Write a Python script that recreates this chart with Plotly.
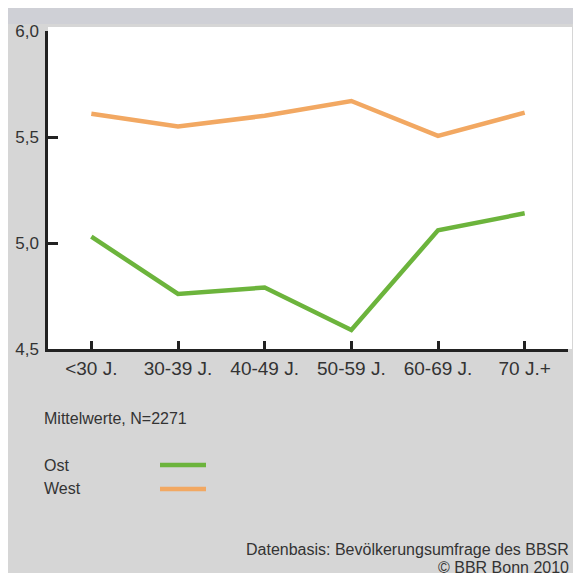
import plotly.graph_objects as go

categories = ["<30 J.", "30-39 J.", "40-49 J.", "50-59 J.", "60-69 J.", "70 J.+"]
ost = [5.03, 4.76, 4.79, 4.59, 5.06, 5.14]
west = [5.61, 5.55, 5.60, 5.67, 5.505, 5.615]
series_names = ["Ost", "West"]
y_tickvals = [4.5, 5.0, 5.5, 6.0]
y_ticktext = ["4,5", "5,0", "5,5", "6,0"]
note = "Mittelwerte, N=2271"
source1 = "Datenbasis: Bevölkerungsumfrage des BBSR"
source2 = "© BBR Bonn 2010"

GREEN = "#6cb43c"
ORANGE = "#f2a862"
OFF = 8  # page body margin
W, H = 581 - OFF, 577 - OFF
PL, PT, PR, PB = 48, 31, 568, 349  # plot area in window pixels
L, T = PL - OFF, PT - OFF
R, B = W - (PR - OFF), H - (PB - OFF)
PW, PH = W - L - R, H - T - B


def px(x):
    # window pixel x -> paper coordinate
    return (x - OFF - L) / PW


def py(y):
    # window pixel y -> paper coordinate
    return (H - B - (y - OFF)) / PH


fig = go.Figure()
fig.add_trace(go.Scatter(x=categories, y=ost, mode="lines", name=series_names[0],
                         line=dict(color=GREEN, width=4.5), showlegend=False))
fig.add_trace(go.Scatter(x=categories, y=west, mode="lines", name=series_names[1],
                         line=dict(color=ORANGE, width=4.5), showlegend=False))

shapes = [
    dict(type="rect", xref="paper", yref="paper", x0=px(0), x1=px(590), y0=py(573), y1=py(0),
         fillcolor="#d6d6d6", line=dict(width=0), layer="below"),
    dict(type="rect", xref="paper", yref="paper", x0=px(0), x1=px(590), y0=py(24), y1=py(0),
         fillcolor="#cfd0d6", line=dict(width=0), layer="below"),
    dict(type="rect", xref="paper", yref="paper", x0=px(48), x1=px(572), y0=py(349), y1=py(27),
         fillcolor="#ffffff", line=dict(width=0), layer="below"),
    dict(type="line", xref="paper", yref="paper", x0=px(160), x1=px(206), y0=py(465), y1=py(465),
         line=dict(color=GREEN, width=4.5)),
    dict(type="line", xref="paper", yref="paper", x0=px(160), x1=px(206), y0=py(489), y1=py(489),
         line=dict(color=ORANGE, width=4.5)),
]

font_txt = dict(family="Liberation Sans, Arial, sans-serif", size=16, color="#333333")
annotations = [
    dict(text=note, x=px(42), y=py(418), xref="paper", yref="paper", xanchor="left",
         yanchor="middle", showarrow=False, font=font_txt),
    dict(text=series_names[0], x=px(42), y=py(465), xref="paper", yref="paper", xanchor="left",
         yanchor="middle", showarrow=False, font=font_txt),
    dict(text=series_names[1], x=px(42), y=py(488), xref="paper", yref="paper", xanchor="left",
         yanchor="middle", showarrow=False, font=font_txt),
    dict(text=source1, x=px(571), y=py(549), xref="paper", yref="paper", xanchor="right",
         yanchor="middle", showarrow=False, font=font_txt),
    dict(text=source2, x=px(571), y=py(567), xref="paper", yref="paper", xanchor="right",
         yanchor="middle", showarrow=False, font=font_txt),
]

fig.update_layout(
    width=W, height=H,
    margin=dict(l=L, r=R, t=T, b=B, pad=0, autoexpand=False),
    paper_bgcolor="#ffffff",
    plot_bgcolor="rgba(0,0,0,0)",
    shapes=shapes,
    annotations=annotations,
    font=dict(family="Liberation Sans, Arial, sans-serif", color="#333333"),
    xaxis=dict(
        type="category", range=[-0.5, 5.5], showgrid=False, zeroline=False,
        showline=True, linecolor="#222222", linewidth=2.5,
        ticks="inside", ticklen=8, tickwidth=2.5, tickcolor="#222222",
        tickfont=dict(size=19, color="#333333"), ticklabelstandoff=0,
        automargin=False, fixedrange=True,
    ),
    yaxis=dict(
        range=[4.5, 6.0], showgrid=False, zeroline=False,
        showline=True, linecolor="#222222", linewidth=2.5,
        tickvals=y_tickvals, ticktext=y_ticktext,
        ticks="inside", ticklen=10, tickwidth=2.5, tickcolor="#222222",
        tickfont=dict(size=17, color="#333333"), ticklabelstandoff=3,
        automargin=False, fixedrange=True,
    ),
)

fig.write_html("out.html", config={"displayModeBar": False})
